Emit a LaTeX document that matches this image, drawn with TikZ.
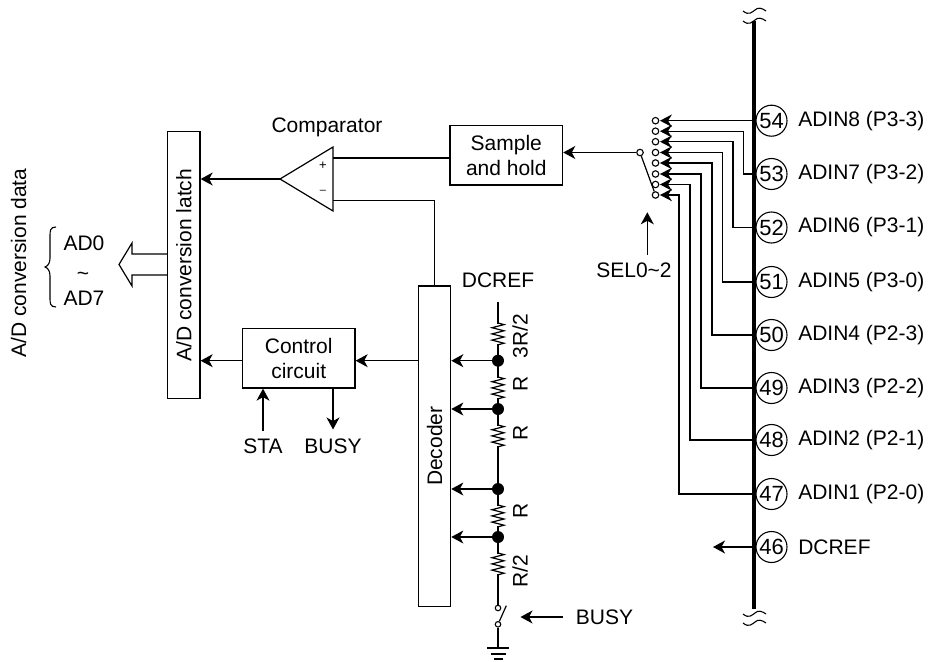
\documentclass[tikz,border=0pt]{standalone}
\usepackage{fontspec}
\setmainfont{Liberation Sans}
\usetikzlibrary{arrows.meta,positioning,calc}
\tikzset{
  wire/.style={line width=1.2pt},
  flow/.style={wire,-{Stealth[length=12pt,width=13pt,inset=3.5pt]}},
  blockbox/.style={draw,line width=1.2pt,inner sep=0pt,align=center},
  pinring/.style={draw,circle,line width=1.1pt,minimum size=31pt,inner sep=0pt,fill=white,font=\fontsize{22}{25}\selectfont},
  contact/.style={draw,circle,line width=1.1pt,minimum size=6.5pt,inner sep=0pt,fill=white},
  junction/.style={circle,fill=black,minimum size=12pt,inner sep=0pt},
  txt/.style={inner sep=0pt},
  sidetxt/.style={inner sep=0pt,rotate=90,anchor=base},
}
% saw-tooth resistor, 22 tall
\newcommand{\zigres}[1]{%
  \draw[wire] (498,#1) -- ++(6,1.6)
    \foreach \k in {1,...,3}{ -- ++(-12,3.1) -- ++(12,3.1)} -- ++(-6,1.6);
}
\newcommand{\wavy}[1]{%
  \draw[line width=1.1pt] (743,#1) .. controls (749,#1+5) and (752,#1+1) .. (755,#1-1)
    .. controls (758,#1-4) and (762,#1-3) .. (766,#1);
}
\begin{document}
\begin{tikzpicture}[x=1pt,y=-1pt,font=\fontsize{21}{25}\selectfont]
  \useasboundingbox (0,0) rectangle (928,661);
  %% Bus
  \coordinate (bustop) at (754,21);
  \coordinate (busbot) at (754,609);
  \draw[line width=3.6pt] (bustop) -- (busbot);
  \wavy{11} \wavy{21} \wavy{614} \wavy{623}

  %% Blocks
  \node[blockbox,minimum width=32.5pt,minimum height=267pt] (latch) at (183.8,265.2)
    {\rotatebox{90}{A/D conversion latch}};
  \node[blockbox,minimum width=112.7pt,minimum height=59.3pt] (sample) at (506.3,155.4)
    {Sample\\and hold};
  \node[blockbox,minimum width=112.7pt,minimum height=59.7pt] (control) at (298.7,358.2)
    {Control\\circuit};
  \node[blockbox,minimum width=32.4pt,minimum height=320.7pt] (decoder) at (434.5,446.3)
    {\rotatebox{90}{Decoder}};

  %% Comparator
  \coordinate (cmptip) at (280,179);
  \coordinate (cmptop) at (333,147);
  \coordinate (cmpbot) at (333,211);
  \draw[wire] (cmptip) -- (cmptop) -- (cmpbot) -- cycle;
  \node[txt,font=\fontsize{13}{14}\selectfont] (plus) at (323,166) {+};
  \node[txt,font=\fontsize{11}{14}\selectfont] (minus) at (323,192) {--};
  \node[txt] (cmplabel) at (327,127) {Comparator};
  \coordinate (cmpin) at (333,158);
  \coordinate (cmpref) at (333,200.5);
  \draw[wire] (cmpin) -- (cmpin -| sample.west);
  \draw[wire] (cmpref) -- (434.5,200.5) -- (decoder.north);
  \draw[flow] (cmptip) -- (cmptip -| latch.east);

  %% Latch output
  \draw[wire] (latch.west |- 0,254) -- (132,254) -- (132,243) -- (119,264.5)
    -- (132,286) -- (132,275) -- (latch.west |- 0,275);
  \draw[line width=1.1pt] (56,227) .. controls (50,227) and (50,231) .. (50,236)
    -- (50,258) .. controls (50,263) and (48,266) .. (45,267)
    .. controls (48,268) and (50,271) .. (50,276) -- (50,298)
    .. controls (50,303) and (50,307) .. (56,307);
  \node[txt] (adzero) at (84,243) {AD0};
  \node[txt] (adtilde) at (83,276) {\textasciitilde};
  \node[txt] (adseven) at (84,298) {AD7};
  \node[sidetxt] (adtitle) at (26,263) {A/D conversion data};

  %% Resistor ladder
  \node[txt] (dcreftop) at (498,280) {DCREF};
  \coordinate (ladtop) at (498,302);
  \draw[wire] (ladtop) -- (498,603);
  \foreach \y in {323,377,425,505,553}{
    \fill[white] (495,\y+1) rectangle (501,\y+21);
    \zigres{\y}
  }
  \foreach \y/\nm in {360.7/a,409/b,489/c,537/d}{
    \node[junction] (tap\nm) at (498,\y) {};
    \draw[flow] (tap\nm) -- (tap\nm -| decoder.east);
  }
  \foreach \y/\nm/\lbl in {336/a/3R\slash 2,384/b/R,432.5/c/R,511/d/R,571/e/R\slash 2}{
    \node[sidetxt] (res\nm) at (527.7,\y) {\lbl};
  }

  %% Control
  \draw[flow] (control.west |- tapa) -- (latch.east |- tapa);
  \draw[flow] (decoder.west |- tapa) -- (control.east |- tapa);
  \node[txt] (stalabel) at (263,446) {STA};
  \node[txt] (busylabel) at (333,446) {BUSY};
  \coordinate (statail) at (263,431);
  \coordinate (busyhead) at (333,429.5);
  \draw[flow] (statail) -- (statail |- control.south);
  \draw[flow] (busyhead |- control.south) -- (busyhead);

  %% Lower switch and ground
  \node[contact,minimum size=5.5pt] (gndtop) at (498,608) {};
  \node[contact,minimum size=5.5pt] (gndbot) at (498,624.3) {};
  \draw[wire] (498,603) -- (gndtop);
  \draw[wire] (gndbot) -- (498,648);
  \draw[wire] (gndbot) -- (506.3,605.7);
  \draw[line width=2pt] (487,648) -- (509,648);
  \draw[line width=2pt] (490.7,654) -- (505.7,654);
  \draw[line width=2pt] (494,659.3) -- (503,659.3);
  \node[txt] (busysw) at (604.5,617) {BUSY};
  \coordinate (busytail) at (562.7,617);
  \draw[flow] (busytail) -- (520.5,617);

  %% Input selector
  \node[contact] (common) at (640,152.5) {};
  \draw[flow] (common) -- (common -| sample.east);
  \foreach \y/\pin/\vx/\py/\lbl in {
    120.7/54/754/120.7/ADIN8 (P3-3),
    131.2/53/743.7/174/ADIN7 (P3-2),
    141.7/52/733/227.5/ADIN6 (P3-1),
    152.5/51/722.5/282/ADIN5 (P3-0),
    163/50/712/335/ADIN4 (P2-3),
    174/49/701/388/ADIN3 (P2-2),
    184.5/48/690/440/ADIN2 (P2-1),
    195/47/679/494/ADIN1 (P2-0)}{
    \node[pinring] (pin\pin) at (771.5,\py) {\pin};
    \node[txt,right=10.5pt of pin\pin] (lab\pin) {\lbl};
    \node[contact] (tap\pin) at (655.5,\y) {};
    \draw[wire] (754,\py) -- (\vx,\py) -- (\vx,\y) -- (665,\y);
    \fill (660,\y) -- (672,\y-6.3) -- (668,\y) -- (672,\y+6.3) -- cycle;
  }
  \draw[wire] (common) -- (tap47);
  \coordinate (seltail) at (647.3,254.5);
  \draw[flow] (seltail) -- (647.3,212.3);
  \node[txt] (sellabel) at (634,270.7) {SEL0\textasciitilde 2};

  %% DCREF pin
  \node[pinring] (pinref) at (771.5,547) {46};
  \node[txt,right=10.5pt of pinref] (labref) {DCREF};
  \draw[flow] (754,547) -- (713,547);
\end{tikzpicture}
\end{document}
